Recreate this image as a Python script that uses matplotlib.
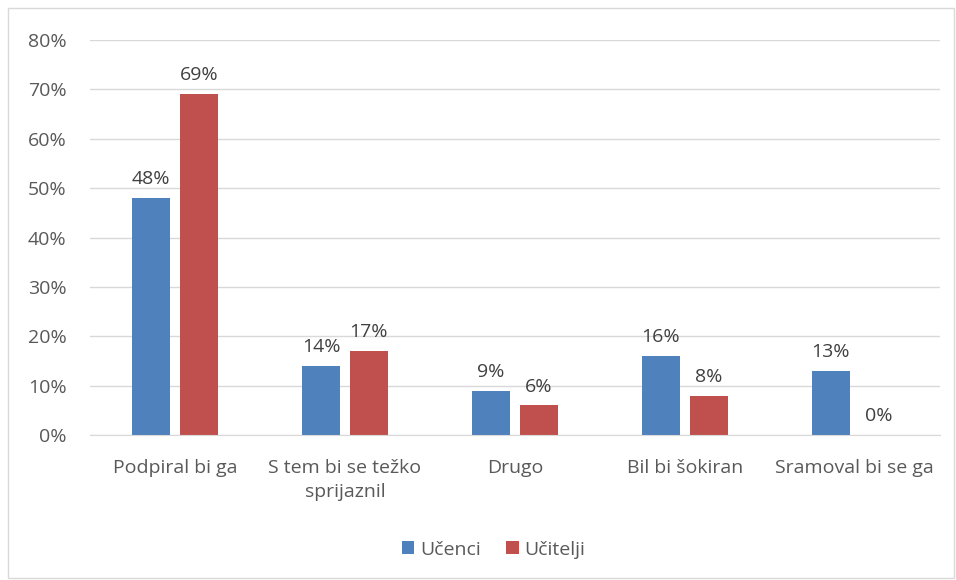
import numpy as np
import matplotlib.pyplot as plt
from matplotlib.patches import Rectangle

# Chart data
categories = ['Podpiral bi ga', 'S tem bi se težko\nsprijaznil', 'Drugo',
              'Bil bi šokiran', 'Sramoval bi se ga']
ucenci = [48, 14, 9, 16, 13]
ucitelji = [69, 17, 6, 8, 0]
yticks = [0, 10, 20, 30, 40, 50, 60, 70, 80]

plt.rcParams['font.family'] = ['Open Sans', 'DejaVu Sans']
fs = 14

fig = plt.figure(figsize=(9.56, 5.8), dpi=100)
ax = fig.add_axes([0.0941, 0.25, 0.889, 0.681])

# outer chart border
fig.patches.append(Rectangle((0.008, 0.003), 0.99, 0.984, transform=fig.transFigure,
                             fill=False, edgecolor='#d9d9d9', linewidth=1))

x = np.arange(len(categories))
w = 0.224
off = 0.141
b1 = ax.bar(x - off, ucenci, w, color='#4f81bd', label='Učenci')
b2 = ax.bar(x + off, ucitelji, w, color='#c0504d', label='Učitelji')

for bars, vals in [(b1, ucenci), (b2, ucitelji)]:
    for b, v in zip(bars, vals):
        ax.text(b.get_x() + b.get_width() / 2, v + 2, f'{v}%', ha='center', va='bottom',
                fontsize=fs, color='#404040')

ax.set_xlim(-0.5, len(categories) - 0.5)
ax.set_ylim(0, 80)
ax.set_yticks(yticks)
ax.set_yticklabels([f'{t}%' for t in yticks])
ax.set_xticks(x)
ax.set_xticklabels(categories, linespacing=1.45)
ax.tick_params(axis='both', length=0, labelsize=fs, colors='#595959')
ax.tick_params(axis='y', pad=17)
ax.tick_params(axis='x', pad=17)
ax.grid(axis='y', color='#d9d9d9', linewidth=1)
ax.set_axisbelow(True)
for s in ['top', 'right', 'left']:
    ax.spines[s].set_visible(False)
ax.spines['bottom'].set_color('#d9d9d9')

ax.legend(loc='center', bbox_to_anchor=(0.475, -0.29), ncol=2, frameon=False,
          fontsize=fs, labelcolor='#595959', handlelength=0.65, handleheight=0.65,
          handletextpad=0.3, columnspacing=1.3)

fig.savefig('out.png', dpi=100, facecolor='white')
